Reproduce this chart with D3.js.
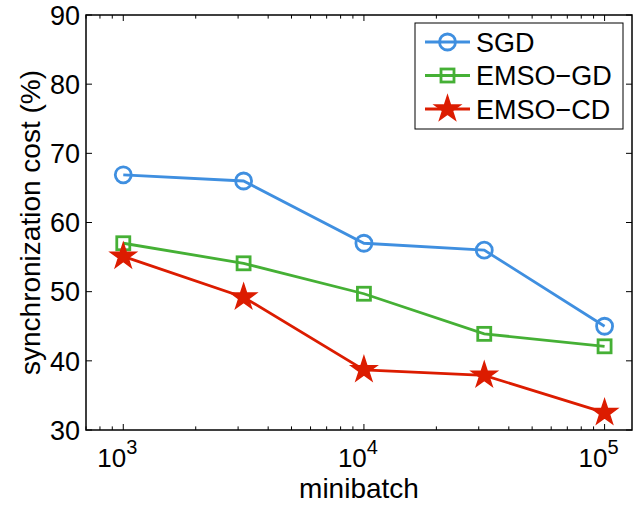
<!DOCTYPE html>
<html>
<head>
<meta charset="utf-8">
<script src="https://cdn.jsdelivr.net/npm/d3@7"></script>
<style>
  body { margin: 0; background: #fff; }
  svg { display: block; }
  text { font-family: "Liberation Sans", Arial, Helvetica, sans-serif; fill: #000; }
</style>
</head>
<body>
<svg width="640" height="506"></svg>
<script>
const minibatch = [1000, 3162, 10000, 31623, 100000];
const sgd = [66.9, 66.0, 57.0, 56.0, 45.0];
const emsoGD = [57.0, 54.1, 49.7, 43.9, 42.1];
const emsoCD = [55.1, 49.2, 38.7, 37.9, 32.5];
const yTicks = [30, 40, 50, 60, 70, 80, 90];
const xTicks = [1e3, 1e4, 1e5];

const series = [
  { name: "SGD", values: sgd, color: "#3f8fe0", marker: "circle" },
  { name: "EMSO\u2212GD", values: emsoGD, color: "#45b035", marker: "square" },
  { name: "EMSO\u2212CD", values: emsoCD, color: "#dc1c00", marker: "star" }
];

const margin = { left: 86, top: 15, right: 8, bottom: 76 };
const width = 640, height = 506;
const svg = d3.select("svg");

const x = d3.scaleLog().domain([700, 130000]).range([margin.left, width - margin.right]);
const y = d3.scaleLinear().domain([30, 90]).range([height - margin.bottom, margin.top]);

const x0 = x.range()[0], x1 = x.range()[1];
const y0 = y.range()[0], y1 = y.range()[1];
const tick = 6;

// minor + major x ticks, inward on top and bottom
const minor = [];
for (let e = 2; e <= 5; e++) {
  for (let m = 1; m <= 9; m++) {
    const v = m * Math.pow(10, e);
    if (v >= 700 && v <= 130000) minor.push(v);
  }
}
const grid = svg.append("g").attr("stroke", "#000").attr("stroke-width", 1);
minor.forEach(v => {
  const len = xTicks.includes(v) ? tick : tick * 0.6;
  grid.append("line").attr("x1", x(v)).attr("x2", x(v)).attr("y1", y0).attr("y2", y0 - len);
  grid.append("line").attr("x1", x(v)).attr("x2", x(v)).attr("y1", y1).attr("y2", y1 + len);
});
yTicks.forEach(v => {
  grid.append("line").attr("x1", x0).attr("x2", x0 + tick).attr("y1", y(v)).attr("y2", y(v));
  grid.append("line").attr("x1", x1).attr("x2", x1 - tick).attr("y1", y(v)).attr("y2", y(v));
});

svg.append("rect")
  .attr("x", x0).attr("y", y1)
  .attr("width", x1 - x0).attr("height", y0 - y1)
  .attr("fill", "none").attr("stroke", "#000").attr("stroke-width", 1.5);

// y tick labels
svg.append("g").selectAll("text").data(yTicks).enter().append("text")
  .attr("x", x0 - 6).attr("y", d => y(d)).attr("dy", "0.36em")
  .attr("text-anchor", "end").attr("font-size", "27px")
  .text(d => d);

// x tick labels 10^n
const xl = svg.append("g").selectAll("text").data(xTicks).enter().append("text")
  .attr("x", d => x(d) - 6).attr("y", 467)
  .attr("text-anchor", "middle").attr("font-size", "26px");
xl.append("tspan").text("10");
xl.append("tspan").attr("dy", -13).attr("font-size", "20px").text(d => Math.round(Math.log10(d)));

svg.append("text").attr("x", (x0 + x1) / 2).attr("y", 498)
  .attr("text-anchor", "middle").attr("font-size", "28px").text("minibatch");

svg.append("text")
  .attr("transform", `translate(40,${(y0 + y1) / 2}) rotate(-90)`)
  .attr("text-anchor", "middle").attr("font-size", "28px")
  .text("synchronization cost (%)");

const star = d3.symbol().type(d3.symbolStar).size(200);

function drawMarker(g, type, color, cx, cy) {
  if (type === "circle") {
    g.append("circle").attr("cx", cx).attr("cy", cy).attr("r", 8)
      .attr("fill", "none").attr("stroke", color).attr("stroke-width", 2.8);
  } else if (type === "square") {
    g.append("rect").attr("x", cx - 6.5).attr("y", cy - 6.5).attr("width", 13).attr("height", 13)
      .attr("fill", "none").attr("stroke", color).attr("stroke-width", 2.8);
  } else {
    g.append("path").attr("d", star).attr("transform", `translate(${cx},${cy})`)
      .attr("fill", color).attr("stroke", color).attr("stroke-width", 1.5).attr("stroke-linejoin", "miter");
  }
}

const line = d3.line().x((d, i) => x(minibatch[i])).y(d => y(d));
series.forEach(s => {
  const g = svg.append("g");
  g.append("path").datum(s.values).attr("d", line)
    .attr("fill", "none").attr("stroke", s.color).attr("stroke-width", 2.8);
  s.values.forEach((v, i) => drawMarker(g, s.marker, s.color, x(minibatch[i]), y(v)));
});

// legend
const lg = svg.append("g");
lg.append("rect").attr("x", 415).attr("y", 23).attr("width", 208).attr("height", 106)
  .attr("fill", "#fff").attr("stroke", "#000").attr("stroke-width", 1);
series.forEach((s, i) => {
  const ly = 42 + i * 33.5;
  lg.append("line").attr("x1", 425).attr("x2", 470).attr("y1", ly).attr("y2", ly)
    .attr("stroke", s.color).attr("stroke-width", 2.8);
  drawMarker(lg, s.marker, s.color, 447.5, ly);
  lg.append("text").attr("x", 476).attr("y", ly).attr("dy", "0.36em")
    .attr("font-size", "27px").text(s.name);
});
</script>
</body>
</html>
